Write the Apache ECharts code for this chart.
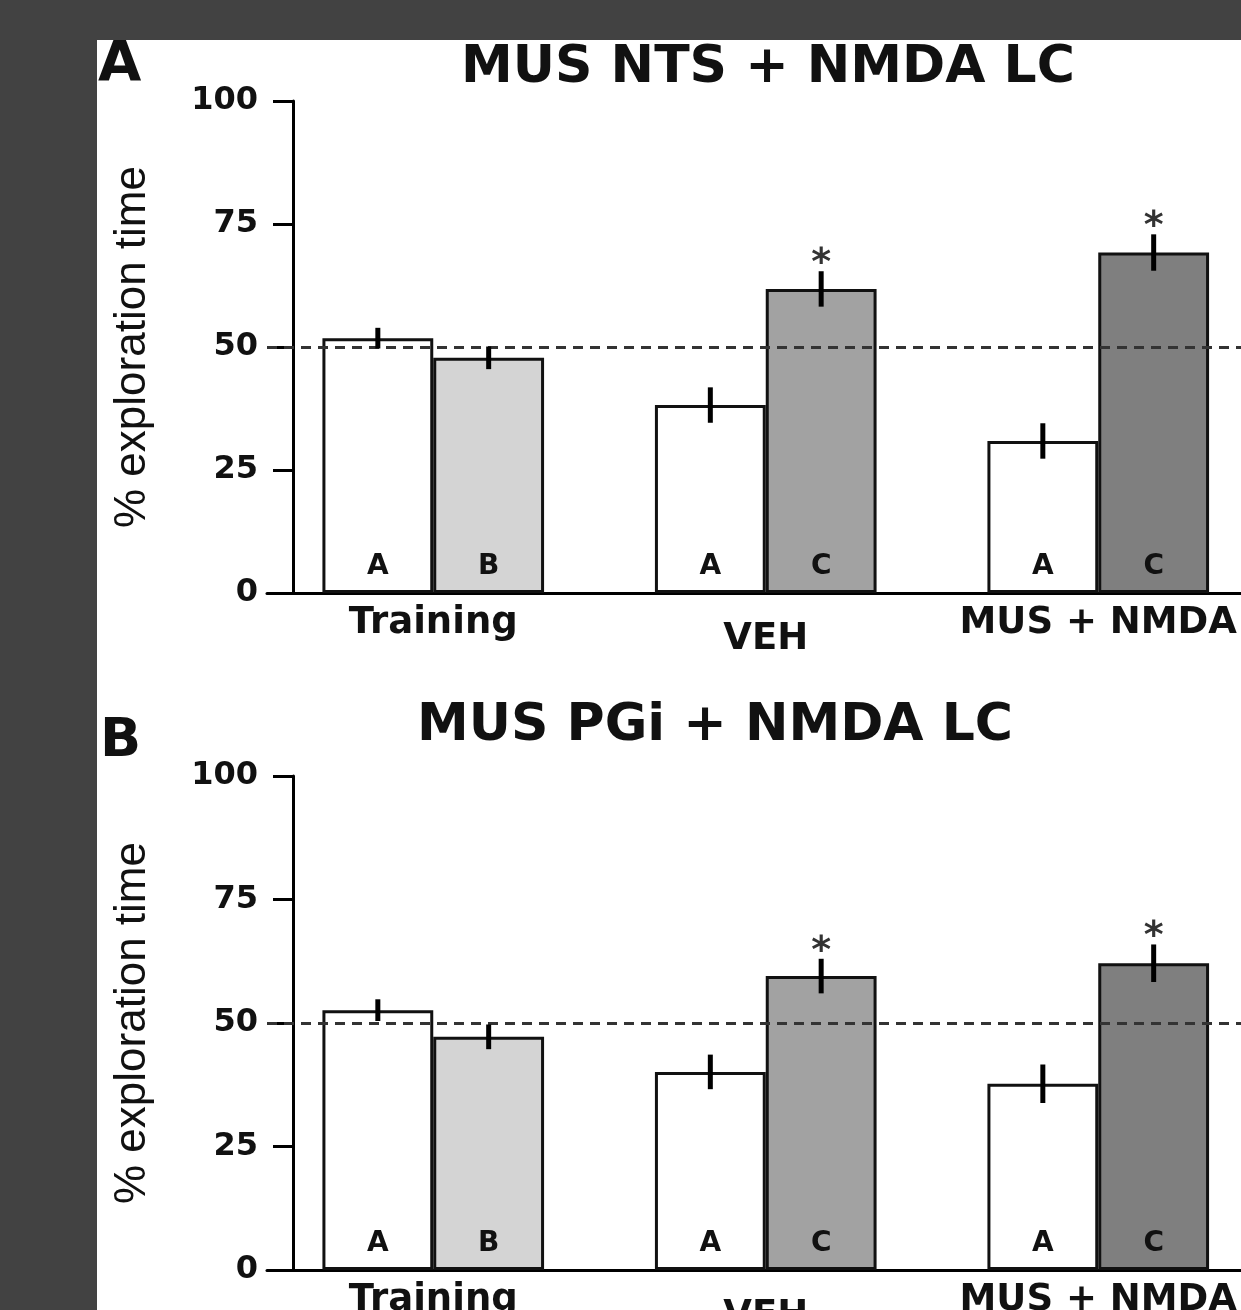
<!DOCTYPE html>
<html>
<head>
<meta charset="utf-8">
<script src="https://cdn.jsdelivr.net/npm/echarts@6/dist/echarts.min.js"></script>
<style>
html, body { margin: 0; padding: 0; background: #424242; overflow: hidden; }
#panel { position: absolute; left: 97px; top: 40px; width: 1144px; height: 1270px; background: #fff; }
</style>
</head>
<body>
<div id="panel"></div>
<script>
// data
var categories = ['Training', 'VEH', 'MUS + NMDA'];
var lettersLeft = ['A', 'A', 'A'];
var lettersRight = ['B', 'C', 'C'];
var starsRight = ['', '*', '*'];
var yTicks = [0, 25, 50, 75, 100];
var chanceLevel = 50;

// panel A : MUS NTS + NMDA LC
var ntsLeft = [51.8, 38.2, 30.9];
var ntsLeftErr = [2.1, 3.6, 3.6];
var ntsRight = [47.8, 61.8, 69.2];
var ntsRightErr = [2.3, 3.6, 3.7];

// panel B : MUS PGi + NMDA LC
var pgiLeft = [52.6, 40.1, 37.7];
var pgiLeftErr = [2.2, 3.5, 3.9];
var pgiRight = [47.2, 59.5, 62.1];
var pgiRightErr = [2.5, 3.5, 3.8];

var panelTitles = ['MUS NTS + NMDA LC', 'MUS PGi + NMDA LC'];
var panelLetters = ['A', 'B'];

// styles
var leftColors = ['#ffffff', '#ffffff', '#ffffff'];
var rightColors = ['#d4d4d4', '#a2a2a2', '#7f7f7f'];
var ink = '#111';
var boldFont = 'DejaVu Sans';

var chart = echarts.init(document.getElementById('panel'));

// grids reach past the right edge, the figure is cropped there
var grids = [
	{ left: 170, top: 61, width: 997.5, height: 492, outerBoundsMode: 'none' },
	{ left: 170, top: 736, width: 997.5, height: 494, outerBoundsMode: 'none' }
];

function makeXAxis(gi) {
	return {
		type: 'category', gridIndex: gi, data: categories.map(function (c) {
			return c === 'VEH' ? { value: c, textStyle: { padding: [16, 0, 0, 0] } } : c;
		}),
		axisLine: { lineStyle: { color: '#000', width: 3 } },
		axisTick: { show: false },
		axisLabel: { interval: 0, margin: 12, color: ink, fontFamily: boldFont, fontWeight: 'bold', fontSize: 37 }
	};
}

function makeYAxis(gi) {
	return {
		type: 'value', gridIndex: gi, offset: -26,
		min: yTicks[0], max: yTicks[yTicks.length - 1], interval: yTicks[1] - yTicks[0],
		axisLine: { show: true, lineStyle: { color: '#000', width: 3 } },
		axisTick: { show: true, length: 20, lineStyle: { color: '#000', width: 3 } },
		splitLine: { show: false },
		axisLabel: { margin: 35, color: ink, fontFamily: boldFont, fontWeight: 'bold', fontSize: 32 },
		name: '% exploration time', nameLocation: 'middle', nameGap: 138,
		nameTextStyle: { color: ink, fontFamily: 'Liberation Sans', fontSize: 44 }
	};
}

function barSeries(gi, vals, letters, colors, withLine) {
	var s = {
		type: 'bar', xAxisIndex: gi, yAxisIndex: gi, barWidth: '33.33%', barGap: '0%', silent: true,
		data: vals.map(function (v, i) { return { value: v, itemStyle: { color: colors[i] } }; }),
		itemStyle: { borderColor: '#111', borderWidth: 3 },
		label: {
			show: true, position: 'insideBottom', distance: 12, color: ink,
			fontFamily: boldFont, fontWeight: 'bold', fontSize: 28,
			formatter: function (p) { return letters[p.dataIndex]; }
		}
	};
	if (withLine) {
		s.markLine = {
			silent: true, symbol: 'none', label: { show: false },
			lineStyle: { type: [10, 7], color: '#333', width: 3 },
			data: [{ yAxis: chanceLevel }]
		};
	}
	return s;
}

// side: -1 for left bar of a pair, +1 for right bar
function errSeries(gi, vals, errs, stars, side) {
	return {
		type: 'custom', xAxisIndex: gi, yAxisIndex: gi, z: 6, silent: true,
		data: vals.map(function (v, i) { return [i, v, errs[i]]; }),
		renderItem: function (params, api) {
			var band = api.size([1, 0])[0];
			var hi = api.coord([api.value(0), api.value(1) + api.value(2)]);
			var lo = api.coord([api.value(0), api.value(1) - api.value(2)]);
			var x = hi[0] + side * band / 6;
			var kids = [{
				type: 'line', shape: { x1: x, y1: hi[1], x2: x, y2: lo[1] },
				style: { stroke: '#000', lineWidth: 5 }
			}];
			var st = stars ? stars[params.dataIndex] : '';
			if (st) {
				kids.push({
					type: 'text', x: x, y: hi[1] + 12,
					style: { text: st, font: 'bold 38px DejaVu Sans', fill: '#333', align: 'center', verticalAlign: 'bottom' }
				});
			}
			return { type: 'group', children: kids };
		}
	};
}

var panels = [
	[ntsLeft, ntsLeftErr, ntsRight, ntsRightErr],
	[pgiLeft, pgiLeftErr, pgiRight, pgiRightErr]
];

var series = [];
panels.forEach(function (p, gi) {
	series.push(barSeries(gi, p[0], lettersLeft, leftColors, true));
	series.push(barSeries(gi, p[2], lettersRight, rightColors, false));
	series.push(errSeries(gi, p[0], p[1], null, -1));
	series.push(errSeries(gi, p[2], p[3], starsRight, 1));
});

var option = {
	animation: false,
	grid: grids,
	xAxis: [makeXAxis(0), makeXAxis(1)],
	yAxis: [makeYAxis(0), makeYAxis(1)],
	graphic: [
		{ type: 'text', x: 1, y: -3, style: { text: panelLetters[0], font: 'bold 56px ' + boldFont, fill: ink, verticalAlign: 'top' } },
		{ type: 'text', x: 671, y: 2, style: { text: panelTitles[0], font: 'bold 52px ' + boldFont, fill: ink, align: 'center', verticalAlign: 'top' } },
		{ type: 'text', x: 3, y: 675, style: { text: panelLetters[1], font: 'bold 54px ' + boldFont, fill: ink, verticalAlign: 'top' } },
		{ type: 'text', x: 618, y: 660, style: { text: panelTitles[1], font: 'bold 52px ' + boldFont, fill: ink, align: 'center', verticalAlign: 'top' } }
	],
	series: series
};

chart.setOption(option);

window.onresize = function () {
	chart.resize();
};
</script>
</body>
</html>
